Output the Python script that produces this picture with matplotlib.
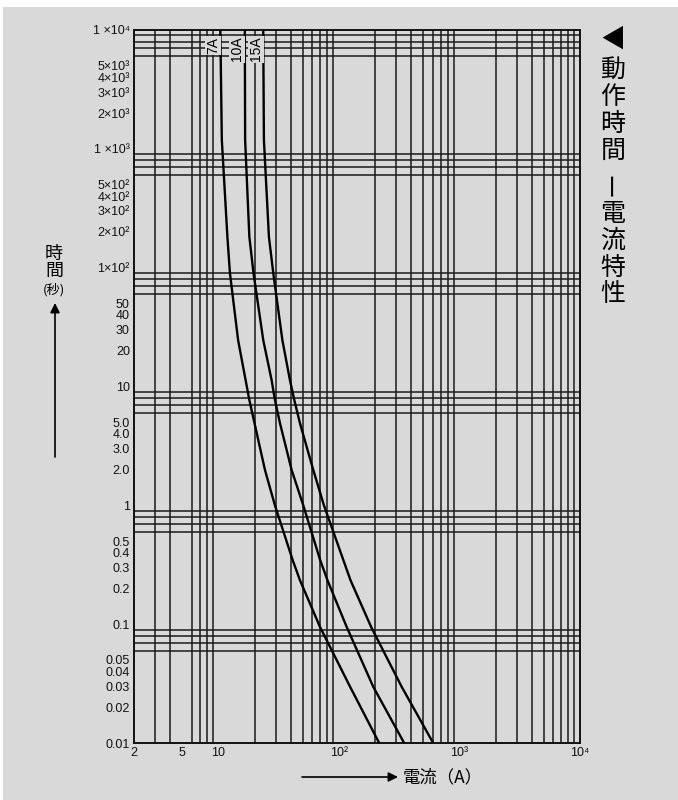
import numpy as np
import matplotlib.pyplot as plt
from matplotlib.ticker import LogLocator, NullFormatter
from matplotlib.patches import Rectangle

plt.rcParams['font.family'] = ['Liberation Sans', 'Noto Sans CJK JP', 'DejaVu Sans']

BG = '#d9d9d9'
GRID = '#1a1a1a'
CJK = ['Noto Sans CJK JP', 'DejaVu Sans']

# operating time (s) against current (A) for each fuse rating
t_7a = [10000, 1190, 182, 89.6, 24.6, 7.7, 1.98, 1.0, 0.346, 0.234, 0.095, 0.0297, 0.01]
i_7a = [10.4, 10.7, 11.9, 12.5, 14.6, 18.1, 24.4, 29.5, 41.4, 47.6, 69.7, 124, 216]
t_10a = [10000, 1190, 182, 89.6, 24.6, 11.3, 7.7, 4.9, 1.98, 1.0, 0.346, 0.234, 0.095, 0.0297, 0.01]
i_10a = [16.6, 16.7, 18.1, 19.6, 23.6, 27.7, 29.5, 32.5, 40.6, 50.7, 70.0, 80.5, 116, 193, 348]
t_15a = [10000, 1190, 182, 89.6, 24.6, 11.3, 7.7, 4.9, 1.98, 1.0, 0.346, 0.234, 0.095, 0.0297, 0.01]
i_15a = [23.6, 23.9, 26.3, 28.6, 34.0, 39.3, 42.7, 47.6, 61.4, 75.2, 109, 125, 185, 332, 606]
curve_names = ['7A', '10A', '15A']

xticks = [2, 5, 10, 100, 1000, 10000]
xlabels = ['2', '5', '10', '10²', '10³', '10⁴']
yticks = [1e4, 5e3, 4e3, 3e3, 2e3, 1e3, 5e2, 4e2, 3e2, 2e2, 1e2,
          50, 40, 30, 20, 10, 5, 4, 3, 2, 1,
          0.5, 0.4, 0.3, 0.2, 0.1, 0.05, 0.04, 0.03, 0.02, 0.01]
ylabels = ['1 ×10⁴', '5×10³', '4×10³', '3×10³', '2×10³', '1 ×10³',
           '5×10²', '4×10²', '3×10²', '2×10²', '1×10²',
           '50', '40', '30', '20', '10', '5.0', '4.0', '3.0', '2.0', '1',
           '0.5', '0.4', '0.3', '0.2', '0.1', '0.05', '0.04', '0.03', '0.02', '0.01']

fig = plt.figure(figsize=(6.78, 8.0), dpi=100, facecolor='white')
fig.patches.append(Rectangle((3 / 678, 0), 1, 793 / 800, transform=fig.transFigure,
                             facecolor=BG, edgecolor='none', zorder=-10))

ax = fig.add_axes([134 / 678, 57 / 800, 446 / 678, 713 / 800])
ax.set_facecolor(BG)
ax.set_xscale('log')
ax.set_yscale('log')
ax.set_xlim(2, 1e4)
ax.set_ylim(0.01, 1e4)

# full log grid, labels only where printed
for axis in (ax.xaxis, ax.yaxis):
    axis.set_minor_locator(LogLocator(base=10, subs=np.arange(1, 10), numticks=100))
    axis.set_minor_formatter(NullFormatter())
ax.set_xticks(xticks)
ax.set_xticklabels(xlabels)
ax.set_yticks(yticks)
ax.set_yticklabels(ylabels)
ax.tick_params(which='both', length=0, labelsize=9, colors='#111111')
ax.tick_params(axis='x', pad=3)
ax.tick_params(axis='y', pad=3)
ax.grid(which='major', visible=False)
ax.grid(which='minor', color=GRID, linewidth=1.1)
for s in ax.spines.values():
    s.set_color('#111111')
    s.set_linewidth(1.4)

for cur, tt in ((i_7a, t_7a), (i_10a, t_10a), (i_15a, t_15a)):
    ax.plot(cur, tt, color='black', linewidth=1.7, zorder=3)

label_pos = [(9.0, 7400), (14.2, 6900), (20.5, 6900)]
for name, (lx, ly) in zip(curve_names, label_pos):
    ax.text(lx, ly, name, rotation=90, ha='center', va='center', fontsize=10,
            zorder=4, bbox=dict(facecolor=BG, edgecolor='none', pad=0.8))

# vertical title on the right
title_chars = ['◀', '動', '作', '時', '間', 'ー', '電', '流', '特', '性']
title_y = [40, 70, 97, 124, 151, 184, 214, 241, 268, 294]
for ch, yy in zip(title_chars, title_y):
    rot = 90 if ch == 'ー' else 0
    fig.text(613 / 678, 1 - yy / 800, ch, ha='center', va='center', fontsize=18,
             rotation=rot, family=CJK)

# y axis caption with arrow
fig.text(54 / 678, 1 - 254 / 800, '時', ha='center', va='center', fontsize=13, family=CJK)
fig.text(54 / 678, 1 - 271 / 800, '間', ha='center', va='center', fontsize=13, family=CJK)
fig.text(54 / 678, 1 - 290 / 800, '(秒)', ha='center', va='center', fontsize=9.5, family=CJK)
ax.annotate('', xy=(55 / 678, 1 - 303 / 800), xytext=(55 / 678, 1 - 457 / 800),
            xycoords='figure fraction', textcoords='figure fraction',
            arrowprops=dict(arrowstyle='-|>', color='black', lw=1.2,
                            mutation_scale=14, shrinkA=0, shrinkB=0))

# x axis caption with arrow
ax.annotate('', xy=(398 / 678, 1 - 777 / 800), xytext=(302 / 678, 1 - 777 / 800),
            xycoords='figure fraction', textcoords='figure fraction',
            arrowprops=dict(arrowstyle='-|>', color='black', lw=1.2,
                            mutation_scale=14, shrinkA=0, shrinkB=0))
fig.text(403 / 678, 1 - 777 / 800, '電流（A）', ha='left', va='center', fontsize=12.5, family=CJK)

fig.savefig('out.png', dpi=100, facecolor='white')
